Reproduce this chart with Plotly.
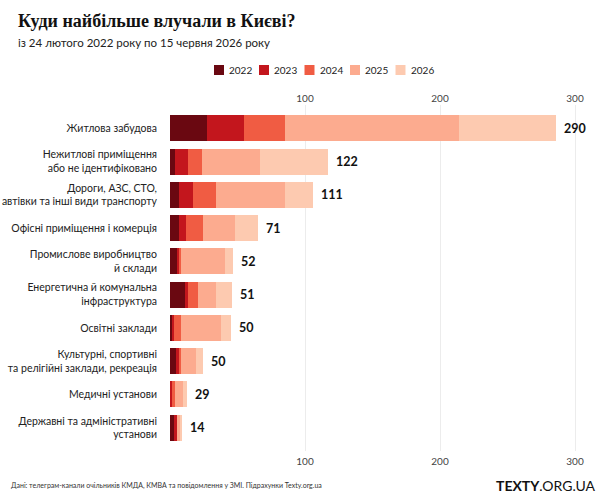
import plotly.graph_objects as go

categories = [
    "Житлова забудова",
    "Нежитлові приміщення<br>або не ідентифіковано",
    "Дороги, АЗС, СТО,<br>автівки та інші види транспорту",
    "Офісні приміщення і комерція",
    "Промислове виробництво<br>й склади",
    "Енергетична й комунальна<br>інфраструктура",
    "Освітні заклади",
    "Культурні, спортивні<br>та релігійні заклади, рекреація",
    "Медичні установи",
    "Державні та адміністративні<br>установи",
]
years = ["2022", "2023", "2024", "2025", "2026"]
colors = ["#6a0811", "#c3161d", "#f05c43", "#fcab8f", "#fdcab0"]

v2022 = [27.4, 4.0, 7.0, 7.0, 4.9, 11.0, 1.5, 4.4, 0.5, 3.2]
v2023 = [27.7, 9.0, 10.0, 4.7, 1.5, 2.0, 1.7, 3.0, 1.0, 1.7]
v2024 = [29.9, 11.0, 17.0, 12.8, 1.7, 7.4, 5.0, 0.6, 2.5, 0.0]
v2025 = [128.7, 43.0, 51.0, 23.7, 33.0, 14.0, 29.6, 11.0, 5.5, 3.2]
v2026 = [71.9, 50.0, 21.0, 17.3, 5.4, 11.8, 7.4, 5.7, 3.0, 0.7]
total_labels = ["290", "122", "111", "71", "52", "51", "50", "50", "29", "14"]
x_ticks = [100, 200, 300]

series = [v2022, v2023, v2024, v2025, v2026]
FONT = "Lato"

fig = go.Figure()
for yr, col, vals in zip(years, colors, series):
    fig.add_trace(go.Bar(
        y=categories, x=vals, name=yr, orientation="h",
        marker=dict(color=col, line=dict(width=0)),
        showlegend=False, hoverinfo="x+name",
    ))

totals = [sum(s[i] for s in series) for i in range(len(categories))]
for cat, tot, lab in zip(categories, totals, total_labels):
    fig.add_annotation(x=tot, y=cat, text="<b>" + lab + "</b>", showarrow=False,
                       xanchor="left", xshift=6, font=dict(size=12.5, color="#111", family=FONT))

# manual legend (horizontal)
leg_x = [214, 259, 304.5, 350, 395.5]
W, L, R = 602, 170, 12
T, B = 105, 47
ph = 498 - T - B
pw = W - L - R
def px_x(px):
    return (px - L) / pw
def px_y(py):
    return (498 - B - py) / ph

for yr, col, lx in zip(years, colors, leg_x):
    fig.add_shape(type="rect", xref="paper", yref="paper",
                  x0=px_x(lx), x1=px_x(lx + 10), y0=px_y(75), y1=px_y(65),
                  fillcolor=col, line=dict(width=0))
    fig.add_annotation(xref="paper", yref="paper", x=px_x(lx + 13), y=px_y(70),
                       text=yr, showarrow=False, xanchor="left", yanchor="middle",
                       font=dict(size=10, color="#222", family=FONT))

fig.add_annotation(xref="paper", yref="paper", x=px_x(16), y=px_y(21),
                   text="<b>Куди найбільше влучали в Києві?</b>", showarrow=False,
                   xanchor="left", yanchor="middle",
                   font=dict(size=18, color="#111", family="Liberation Serif"))
fig.add_annotation(xref="paper", yref="paper", x=px_x(16), y=px_y(43),
                   text="із 24 лютого 2022 року по 15 червня 2026 року", showarrow=False,
                   xanchor="left", yanchor="middle",
                   font=dict(size=11.5, color="#222", family=FONT))
fig.add_annotation(xref="paper", yref="paper", x=px_x(9), y=px_y(485),
                   text="Дані: телеграм-канали очільників КМДА, КМВА та повідомлення у ЗМІ. Підрахунки Texty.org.ua",
                   showarrow=False, xanchor="left", yanchor="middle",
                   font=dict(size=7, color="#333", family=FONT))
fig.add_annotation(xref="paper", yref="paper", x=px_x(597), y=px_y(485),
                   text="<b>TEXTY</b>.ORG.UA", showarrow=False, xanchor="right", yanchor="middle",
                   font=dict(size=14, color="#111", family=FONT))

xr = [0, pw / 1.35]
fig.update_layout(
    width=W, height=498,
    margin=dict(l=L, r=R, t=T, b=B, pad=0, autoexpand=False),
    barmode="stack", bargap=0.22,
    plot_bgcolor="white", paper_bgcolor="white",
    font=dict(family=FONT, color="#222"),
    xaxis=dict(range=xr, tickvals=x_ticks, showgrid=True, gridcolor="#ececec", gridwidth=1,
               zeroline=False, showline=False, ticks="", tickfont=dict(size=10, color="#444"),
               fixedrange=True, automargin=False, ticklabelstandoff=3),
    xaxis2=dict(range=xr, tickvals=x_ticks, overlaying="x", side="top", showgrid=False,
                zeroline=False, showline=False, ticks="", tickfont=dict(size=10, color="#444"),
                fixedrange=True, automargin=False),
    yaxis=dict(autorange=False, range=[9.7, -0.7], showgrid=False, zeroline=False,
               showline=False, ticks="", ticklabelstandoff=12, automargin=False,
               tickfont=dict(size=10.5, color="#222"), fixedrange=True),
)
fig.add_trace(go.Scatter(x=[None], y=[None], xaxis="x2", showlegend=False, hoverinfo="skip"))
fig.write_html("out.html")
